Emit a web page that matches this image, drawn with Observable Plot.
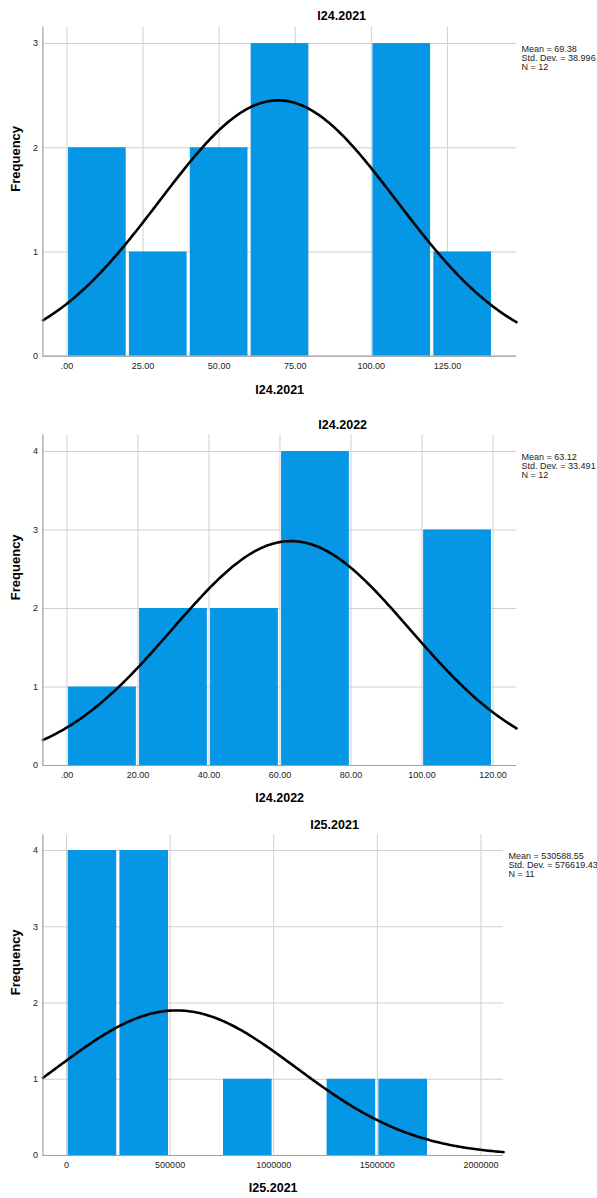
<!DOCTYPE html>
<html><head><meta charset="utf-8">
<script src="https://cdn.jsdelivr.net/npm/d3@7"></script>
<script src="https://cdn.jsdelivr.net/npm/@observablehq/plot@0.6"></script>
<style>
body{margin:0;background:#fff;}
#charts svg{display:block;}
</style></head><body><div id="charts"></div>
<script>
const FONT = "'Liberation Sans', Arial, Helvetica, sans-serif";

// ---- data ----
const titles = ["I24.2021", "I24.2022", "I25.2021"];

const edges1 = [0, 20, 40, 60, 80, 100, 120, 140];
const counts1 = [2, 1, 2, 3, 0, 3, 1];
const xTicks1 = [0, 25, 50, 75, 100, 125];

const edges2 = [0, 20, 40, 60, 80, 100, 120];
const counts2 = [1, 2, 2, 4, 0, 3];
const xTicks2 = [0, 20, 40, 60, 80, 100, 120];

const edges3 = [0, 250000, 500000, 750000, 1000000, 1250000, 1500000, 1750000];
const counts3 = [4, 4, 0, 1, 0, 1, 1];
const xTicks3 = [0, 500000, 1000000, 1500000, 2000000];

const means = [69.38, 63.12, 530588.55];
const sds = [38.996, 33.491, 576619.43];
const ns = [12, 12, 11];

const yTicks1 = [0, 1, 2, 3];
const yTicks2 = [0, 1, 2, 3, 4];
const yTicks3 = [0, 1, 2, 3, 4];

const fmtDec = d => d === 0 ? ".00" : d.toFixed(2);
const fmtInt = d => String(d);

function hist(i, edges, counts, xTicks, yTicks, tickFmt, L) {
  const mean = means[i], sd = sds[i], n = ns[i];
  const bins = counts.map((c, k) => ({x1: edges[k], x2: edges[k + 1], c}));
  const bw = edges[1] - edges[0];
  const [a, b] = L.xDomain;
  const curve = d3.range(0, 241).map(k => {
    const x = a + (b - a) * k / 240;
    return {x, y: n * bw * Math.exp(-0.5 * ((x - mean) / sd) ** 2) / (sd * Math.sqrt(2 * Math.PI))};
  });
  const stats = `Mean = ${mean}\nStd. Dev. = ${sd}\nN = ${n}`;
  return Plot.plot({
    width: 597, height: L.height,
    marginLeft: 42.4, marginRight: L.mr, marginTop: L.mt, marginBottom: L.mb,
    style: {fontFamily: FONT, fontSize: "9px", color: "#222", background: "#fff", overflow: "visible"},
    x: {domain: L.xDomain, label: null},
    y: {domain: L.yDomain, label: null},
    marks: [
      Plot.gridX(xTicks, {stroke: "#d0d0d0", strokeOpacity: 1, strokeWidth: 1}),
      Plot.gridY(yTicks, {stroke: "#d0d0d0", strokeOpacity: 1, strokeWidth: 1}),
      Plot.rectY(bins, {x1: "x1", x2: "x2", y: "c", fill: "#0596e6", insetLeft: 1.6, insetRight: 1.6}),
      Plot.line(curve, {x: "x", y: "y", stroke: "#000", strokeWidth: 2.6}),
      Plot.ruleX([a], {stroke: "#a0a0a0", strokeWidth: 1.2}),
      Plot.ruleY([0], {stroke: "#a0a0a0", strokeWidth: 1.2}),
      Plot.axisX(xTicks, {tickSize: 0, tickPadding: 6.5, tickFormat: tickFmt, label: null, fill: "#222", fontSize: 9}),
      Plot.axisY(yTicks, {tickSize: 0, tickPadding: 5, tickFormat: fmtInt, label: null, fill: "#222", fontSize: 9}),
      Plot.text([titles[i]], {frameAnchor: "top", dx: L.titleDx, dy: L.titleDy, lineAnchor: "middle", fontSize: 12.5, fontWeight: "bold", fill: "#000"}),
      Plot.text([titles[i]], {frameAnchor: "bottom", dy: L.xLabelDy, lineAnchor: "middle", fontSize: 12.5, fontWeight: "bold", fill: "#000"}),
      Plot.text(["Frequency"], {frameAnchor: "left", dx: -27.1, rotate: -90, lineAnchor: "middle", fontSize: 13, fontWeight: "bold", fill: "#000"}),
      Plot.text([stats], {frameAnchor: "top-right", dx: 5, dy: L.statsDy, textAnchor: "start", lineAnchor: "top", lineHeight: 1, fontSize: 9, fill: "#222"})
    ]
  });
}

const root = document.getElementById("charts");
root.append(hist(0, edges1, counts1, xTicks1, yTicks1, fmtDec, {
  height: 400, mt: 26.7, mb: 44.3, mr: 81, xDomain: [-7.9, 147.7], yDomain: [0, 3.157],
  titleDx: 62, titleDy: -11.7, xLabelDy: 33.3, statsDy: 18.1
}));
root.append(hist(1, edges2, counts2, xTicks2, yTicks2, fmtDec, {
  height: 405, mt: 34.3, mb: 40, mr: 81, xDomain: [-6.76, 126.6], yDomain: [0, 4.213],
  titleDx: 63, titleDy: -10.3, xLabelDy: 32, statsDy: 19.2
}));
root.append(hist(2, edges3, counts3, xTicks3, yTicks3, fmtInt, {
  height: 393, mt: 29.3, mb: 43, mr: 94, xDomain: [-114000, 2109000], yDomain: [0, 4.206],
  titleDx: 61.3, titleDy: -10.3, xLabelDy: 32.7, statsDy: 17.8
}));
</script></body></html>
